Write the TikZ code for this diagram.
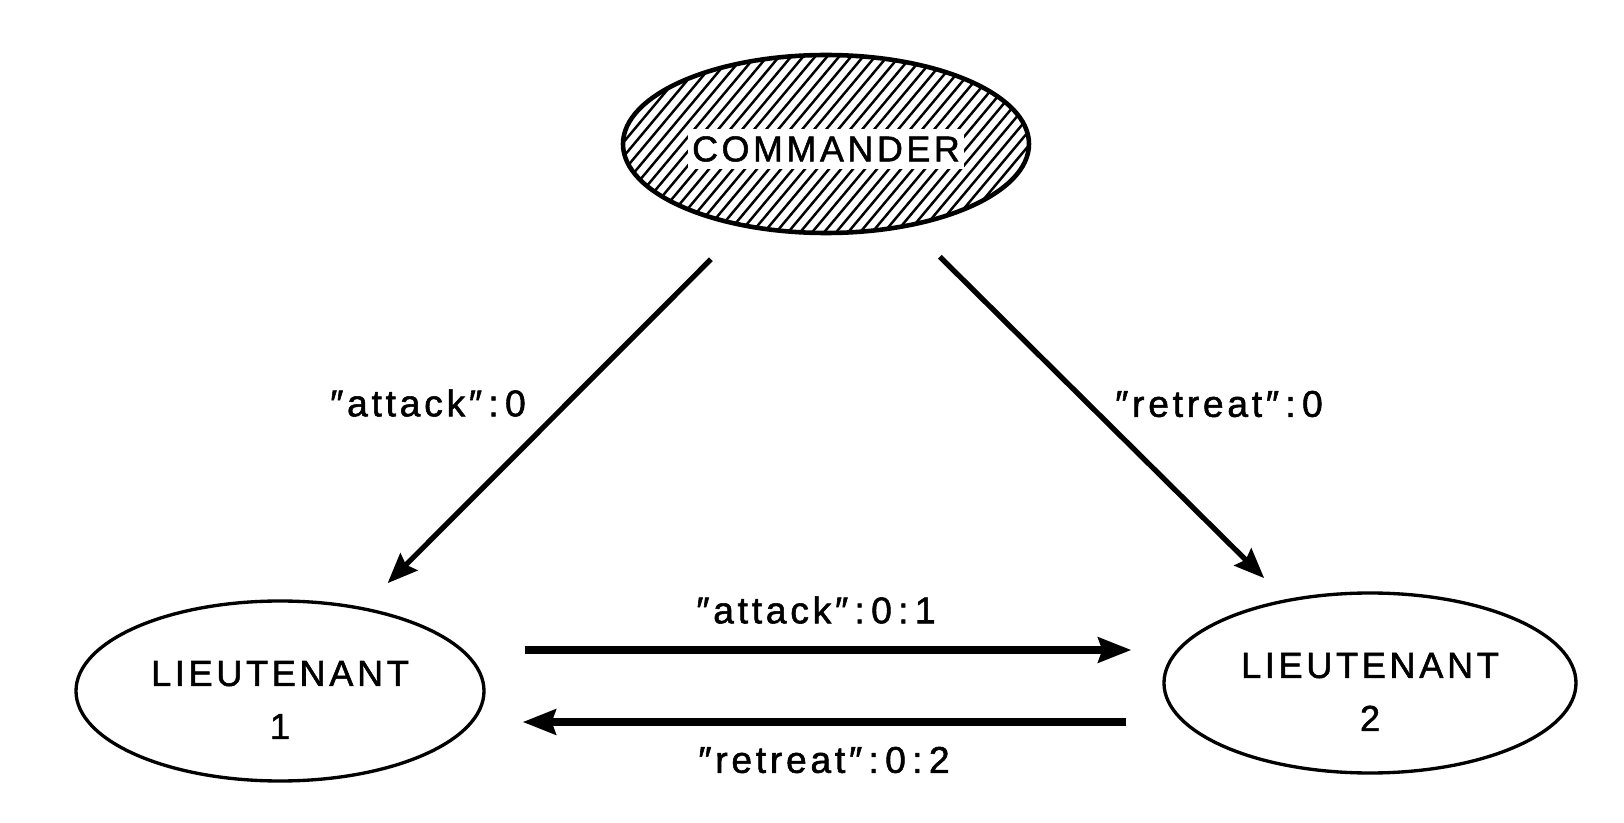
\documentclass[tikz,border=0pt]{standalone}
\usepackage{fontspec}
\newfontfamily\diagfont{Liberation Sans}[LetterSpace=10, FakeBold=1.4]
\newfontfamily\msgfont{Liberation Sans}[LetterSpace=10, FakeBold=1.5]
\usetikzlibrary{arrows.meta,shapes.geometric,calc}
\tikzset{
  % ellipse for a general
  actor/.style={
    draw,
    ellipse,
    line width=0.95pt,
    inner sep=0pt,
    minimum width=4.08cm,
    minimum height=1.80cm,
    align=center,
    font=\diagfont\fontsize{10.3}{15.1}\selectfont
  },
  % the commander (hatched)
  cmdnode/.style={actor, line width=1.3pt, minimum width=4.06cm, minimum height=1.78cm},
  cmdtext/.style={fill=white, inner xsep=1.2pt, inner ysep=2pt, font=\diagfont\fontsize{10.2}{12}\selectfont},
  hatch/.style={line width=0.7pt},
  % arrows
  diag/.style={-{Stealth[length=0.30cm, width=0.24cm, inset=0.04cm]}, line width=1.5pt},
  arr/.style={-{Stealth[length=0.33cm, width=0.25cm, inset=0.04cm]}, line width=2pt},
  % message labels
  msg/.style={font=\msgfont\fontsize{10.6}{12}\selectfont, inner sep=0pt},
}
\newcommand{\cln}{\kern1.8pt:\kern1.8pt}
\begin{document}
\begin{tikzpicture}
    \useasboundingbox (0,0) rectangle (16.24,8.22);

    % Commander
    \node[cmdnode] (cmd) at (8.26,6.78) {};
    \begin{scope}
        \clip (cmd.center) ellipse (2.02 and 0.88);
        \foreach \k in {-25,...,25}
            \draw[hatch] ($(cmd.center)+(\k*0.12,0)$) ++(-0.77,-0.92) -- ++(1.54,1.84);
    \end{scope}
    \node[cmdtext] (cmdlab) at ([yshift=-0.05cm]cmd.center) {COMMANDER};

    % Lieutenants
    \node[actor] (lt1) at (2.80,1.31) {\rule{0pt}{12.2pt}LIEUTENANT\\1};
    \node[actor, minimum width=4.12cm] (lt2) at (13.70,1.39) {\rule{0pt}{12.2pt}LIEUTENANT\\2};

    % Orders
    \draw[diag, shorten <=0.45cm, shorten >=0.34cm] (cmd) -- (lt1);
    \draw[diag, shorten <=0.42cm, shorten >=0.30cm] (cmd) -- (lt2);

    % Relayed messages
    \draw[arr, shorten <=0.39cm, shorten >=0.31cm] ([yshift=0.41cm]lt1.east) -- ([yshift=0.41cm]lt1.east -| lt2.west);
    \draw[arr, shorten <=0.36cm, shorten >=0.37cm] ([yshift=-0.31cm]lt1.east -| lt2.west) -- ([yshift=-0.31cm]lt1.east);

    % Labels
    \node[msg] (ordA) at (4.28,4.19) {″attack″\cln0};
    \node[msg] (ordR) at (12.19,4.18) {″retreat″\cln0};
    \node[msg] (relA) at (8.16,2.12) {″attack″\cln0\cln1};
    \node[msg] (relR) at (8.24,0.62) {″retreat″\cln0\cln2};
\end{tikzpicture}
\end{document}
